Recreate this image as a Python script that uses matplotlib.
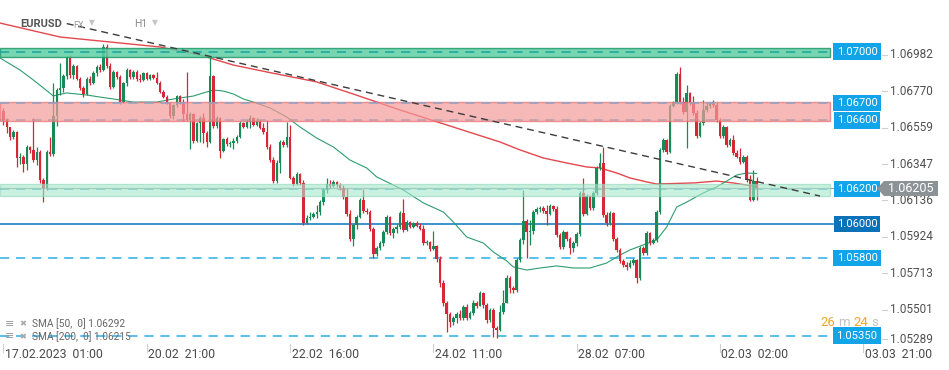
import numpy as np
import matplotlib
matplotlib.use("Agg")
import matplotlib.pyplot as plt
from matplotlib import transforms
from matplotlib.patches import Polygon

plt.rcParams['font.family'] = ['Roboto', 'DejaVu Sans']

# ---------------- data (EURUSD, H1) ----------------
first_open = 1.06655
closes = [
    1.06603, 1.06562, 1.06504, 1.06533, 1.06382, 1.06388, 1.06347, 1.06446, 1.06429, 1.06370,
    1.06417, 1.06254, 1.06208, 1.06417, 1.06405, 1.06626, 1.06777, 1.06789, 1.06858, 1.06963,
    1.06864, 1.06917, 1.06841, 1.06789, 1.06754, 1.06841, 1.06818, 1.06876, 1.06911, 1.06893,
    1.07027, 1.06917, 1.06795, 1.06882, 1.06853, 1.06707, 1.06818, 1.06893, 1.06853, 1.06882,
    1.06841, 1.06835, 1.06876, 1.06841, 1.06864, 1.06847, 1.06818, 1.06765, 1.06736, 1.06702,
    1.06626, 1.06690, 1.06742, 1.06707, 1.06638, 1.06603, 1.06638, 1.06481, 1.06585, 1.06614,
    1.06527, 1.06475, 1.06858, 1.06568, 1.06614, 1.06423, 1.06492, 1.06463, 1.06469, 1.06481,
    1.06504, 1.06585, 1.06562, 1.06591, 1.06614, 1.06574, 1.06597, 1.06556, 1.06533, 1.06446,
    1.06370, 1.06248, 1.06353, 1.06475, 1.06458, 1.06504, 1.06266, 1.06231, 1.06289, 1.06237,
    1.06004, 1.06033, 1.06039, 1.06057, 1.06068, 1.06126, 1.06196, 1.06231, 1.06219, 1.06243,
    1.06225, 1.06208, 1.06155, 1.06057, 1.05911, 1.05993, 1.06039, 1.06138, 1.06074, 1.06068,
    1.05970, 1.05824, 1.05859, 1.05888, 1.05952, 1.06039, 1.05946, 1.05970, 1.05981, 1.06062,
    1.05964, 1.06010, 1.05981, 1.06004, 1.05987, 1.05970, 1.05888, 1.05894, 1.05853, 1.05871,
    1.05795, 1.05656, 1.05540, 1.05476, 1.05429, 1.05452, 1.05476, 1.05452, 1.05516, 1.05452,
    1.05481, 1.05540, 1.05522, 1.05598, 1.05528, 1.05441, 1.05499, 1.05394, 1.05383, 1.05487,
    1.05540, 1.05685, 1.05627, 1.05615, 1.05789, 1.05906, 1.06016, 1.05952, 1.05958, 1.06068,
    1.06086, 1.06092, 1.06074, 1.06057, 1.06103, 1.06086, 1.05935, 1.05865, 1.05952, 1.05911,
    1.05859, 1.05888, 1.05940, 1.06179, 1.06057, 1.06161, 1.06092, 1.06179, 1.06324, 1.06353,
    1.06051, 1.06004, 1.06062, 1.05911, 1.05848, 1.05784, 1.05760, 1.05749, 1.05772, 1.05789,
    1.05685, 1.05859, 1.05830, 1.05946, 1.05888, 1.05906, 1.06068, 1.06429, 1.06487, 1.06417,
    1.06684, 1.06702, 1.06870, 1.06707, 1.06649, 1.06760, 1.06702, 1.06643, 1.06510, 1.06585,
    1.06661, 1.06684, 1.06696, 1.06690, 1.06603, 1.06510, 1.06562, 1.06458, 1.06487, 1.06411,
    1.06388, 1.06359, 1.06388, 1.06254, 1.06138, 1.06248, 1.06205,
]
highs = [
    1.06673, 1.06615, 1.06557, 1.06545, 1.06539, 1.06412, 1.06400, 1.06458, 1.06452, 1.06615,
    1.06446, 1.06429, 1.06266, 1.06429, 1.06504, 1.06818, 1.06789, 1.06934, 1.06870, 1.06974,
    1.06980, 1.06928, 1.06922, 1.06852, 1.06800, 1.06852, 1.06858, 1.06887, 1.06922, 1.06928,
    1.07045, 1.07045, 1.06934, 1.06893, 1.06887, 1.06864, 1.06824, 1.06905, 1.06899, 1.06893,
    1.06893, 1.06870, 1.06882, 1.06882, 1.06870, 1.06870, 1.06882, 1.06829, 1.06777, 1.06748,
    1.06707, 1.06696, 1.06748, 1.06748, 1.06725, 1.06882, 1.06649, 1.06643, 1.06591, 1.06626,
    1.06643, 1.06539, 1.06969, 1.06864, 1.06626, 1.06620, 1.06498, 1.06504, 1.06481, 1.06498,
    1.06516, 1.06597, 1.06591, 1.06603, 1.06632, 1.06620, 1.06615, 1.06603, 1.06585, 1.06603,
    1.06463, 1.06388, 1.06370, 1.06487, 1.06487, 1.06591, 1.06574, 1.06277, 1.06301, 1.06295,
    1.06254, 1.06051, 1.06068, 1.06068, 1.06109, 1.06138, 1.06208, 1.06266, 1.06254, 1.06254,
    1.06248, 1.06237, 1.06225, 1.06208, 1.06080, 1.05999, 1.06051, 1.06150, 1.06202, 1.06092,
    1.06080, 1.05981, 1.05871, 1.05900, 1.05964, 1.06051, 1.06045, 1.05981, 1.05999, 1.06074,
    1.06144, 1.06022, 1.06016, 1.06010, 1.06016, 1.06004, 1.05993, 1.05906, 1.05900, 1.05958,
    1.05877, 1.05813, 1.05673, 1.05551, 1.05487, 1.05464, 1.05487, 1.05499, 1.05528, 1.05534,
    1.05493, 1.05557, 1.05551, 1.05609, 1.05603, 1.05540, 1.05511, 1.05511, 1.05406, 1.05528,
    1.05615, 1.05702, 1.05696, 1.05638, 1.05801, 1.05917, 1.06196, 1.06028, 1.06022, 1.06080,
    1.06097, 1.06103, 1.06103, 1.06109, 1.06115, 1.06109, 1.06103, 1.05946, 1.05964, 1.05958,
    1.05923, 1.05900, 1.05952, 1.06190, 1.06266, 1.06173, 1.06167, 1.06190, 1.06335, 1.06411,
    1.06446, 1.06068, 1.06074, 1.06068, 1.05923, 1.05859, 1.05795, 1.05778, 1.05789, 1.05801,
    1.05795, 1.05871, 1.05871, 1.05958, 1.05952, 1.05917, 1.06080, 1.06440, 1.06498, 1.06492,
    1.06696, 1.06713, 1.06882, 1.06911, 1.06736, 1.06806, 1.06765, 1.06742, 1.06661, 1.06597,
    1.06719, 1.06702, 1.06707, 1.06719, 1.06707, 1.06615, 1.06574, 1.06568, 1.06498, 1.06516,
    1.06429, 1.06440, 1.06400, 1.06400, 1.06283, 1.06312, 1.06272,
]
lows = [
    1.06574, 1.06527, 1.06487, 1.06492, 1.06330, 1.06347, 1.06301, 1.06312, 1.06411, 1.06359,
    1.06341, 1.06237, 1.06126, 1.06196, 1.06394, 1.06394, 1.06568, 1.06748, 1.06765, 1.06841,
    1.06847, 1.06841, 1.06835, 1.06777, 1.06736, 1.06748, 1.06806, 1.06812, 1.06858, 1.06882,
    1.06887, 1.06905, 1.06783, 1.06789, 1.06841, 1.06696, 1.06702, 1.06800, 1.06841, 1.06841,
    1.06829, 1.06824, 1.06829, 1.06835, 1.06835, 1.06841, 1.06812, 1.06760, 1.06731, 1.06696,
    1.06615, 1.06609, 1.06678, 1.06696, 1.06597, 1.06597, 1.06434, 1.06469, 1.06475, 1.06475,
    1.06469, 1.06446, 1.06469, 1.06556, 1.06556, 1.06382, 1.06417, 1.06452, 1.06446, 1.06434,
    1.06469, 1.06498, 1.06556, 1.06556, 1.06556, 1.06568, 1.06568, 1.06550, 1.06521, 1.06434,
    1.06359, 1.06237, 1.06237, 1.06295, 1.06446, 1.06446, 1.06260, 1.06219, 1.06225, 1.06225,
    1.05993, 1.05999, 1.06022, 1.06034, 1.06034, 1.06051, 1.06109, 1.06179, 1.06208, 1.06214,
    1.06214, 1.06196, 1.06144, 1.06045, 1.05900, 1.05871, 1.05970, 1.06034, 1.06062, 1.06057,
    1.05958, 1.05801, 1.05813, 1.05848, 1.05871, 1.05940, 1.05935, 1.05917, 1.05946, 1.05970,
    1.05952, 1.05958, 1.05975, 1.05975, 1.05981, 1.05964, 1.05877, 1.05877, 1.05842, 1.05848,
    1.05778, 1.05633, 1.05522, 1.05371, 1.05400, 1.05412, 1.05423, 1.05441, 1.05441, 1.05441,
    1.05447, 1.05470, 1.05511, 1.05522, 1.05511, 1.05423, 1.05429, 1.05342, 1.05336, 1.05377,
    1.05476, 1.05557, 1.05598, 1.05598, 1.05603, 1.05778, 1.05882, 1.05801, 1.05877, 1.05940,
    1.06057, 1.06068, 1.06062, 1.05993, 1.06051, 1.06074, 1.05923, 1.05853, 1.05853, 1.05900,
    1.05824, 1.05836, 1.05871, 1.05929, 1.06045, 1.06051, 1.06080, 1.06080, 1.06167, 1.06312,
    1.06039, 1.05987, 1.05993, 1.05900, 1.05836, 1.05772, 1.05749, 1.05731, 1.05743, 1.05760,
    1.05656, 1.05673, 1.05818, 1.05818, 1.05877, 1.05882, 1.05894, 1.06057, 1.06417, 1.06405,
    1.06411, 1.06678, 1.06696, 1.06696, 1.06638, 1.06440, 1.06690, 1.06632, 1.06498, 1.06504,
    1.06574, 1.06649, 1.06673, 1.06678, 1.06591, 1.06498, 1.06498, 1.06446, 1.06452, 1.06400,
    1.06382, 1.06347, 1.06353, 1.06243, 1.06132, 1.06132, 1.06138,
]

# moving averages at candle positions
sma50_idx = [-1, 5, 9, 12, 15, 16, 19, 22, 25, 29, 33, 39, 46, 51, 57, 60, 63, 66, 69, 72,
             75, 80, 85, 89, 94, 99, 104, 109, 112, 120, 126, 132, 135, 139, 144, 147, 151, 153,
             157, 161, 166, 171, 176, 181, 185, 188, 192, 196, 199, 202, 205, 210, 214, 217,
             220, 223, 226]
sma50_val = [1.06963, 1.06893, 1.06835, 1.06789, 1.06742, 1.06748, 1.06760, 1.06754, 1.06748,
             1.06736, 1.06725, 1.06707, 1.06707, 1.06725, 1.06742, 1.06760, 1.06777, 1.06771,
             1.06754, 1.06725, 1.06707, 1.06673, 1.06620, 1.06562, 1.06498, 1.06446, 1.06370,
             1.06324, 1.06272, 1.06196, 1.06121, 1.06068, 1.06010, 1.05923, 1.05888, 1.05836,
             1.05784, 1.05749, 1.05731, 1.05743, 1.05755, 1.05743, 1.05743, 1.05772, 1.05818,
             1.05848, 1.05877, 1.05906, 1.05981, 1.06097, 1.06126, 1.06179, 1.06214, 1.06248,
             1.06283, 1.06295, 1.06292]
sma200_idx = [-1, 17, 32, 47, 59, 69, 79, 94, 104, 119, 134, 149, 155, 162, 169, 175, 179,
              184, 188, 193, 196, 207, 214, 219, 226]
sma200_val = [1.07166, 1.07085, 1.07056, 1.07027, 1.06980, 1.06922, 1.06882, 1.06824, 1.06760,
              1.06661, 1.06568, 1.06475, 1.06429, 1.06382, 1.06353, 1.06330, 1.06324, 1.06295,
              1.06266, 1.06243, 1.06231, 1.06237, 1.06248, 1.06237, 1.06215]

trend_idx = [19, 245]
trend_val = [1.07163, 1.06161]

# zones (low, high)
zone_top = (1.06967, 1.07023)
zone_red = (1.06599, 1.06706)
zone_low = (1.06163, 1.06229)

level_values = [1.07000, 1.06700, 1.06600, 1.06200, 1.06000, 1.05800, 1.05350]
price_ticks = [1.06982, 1.06770, 1.06559, 1.06347, 1.06136, 1.05924, 1.05713, 1.05501, 1.05289]
date_idx = [0, 43, 86, 129, 172, 215, 258]
date_labels = ['17.02.2023  01:00', '20.02  21:00', '22.02  16:00', '24.02  11:00',
               '28.02  07:00', '02.03  02:00', '03.03  21:00']
last_price = 1.06205
sma50_last = 1.06292
sma200_last = 1.06215

# ---------------- layout ----------------
W, H = 949, 370
X0, STEP = 3.4, 3.333          # pixel of first candle, pixels per candle
P_TOP, P_PX = 1.07300, 0.0000581

GREEN = '#178a57'
RED = '#d92636'
LBLUE = '#12a4e8'
DBLUE = '#0b72b9'

fig = plt.figure(figsize=(W / 100, H / 100), dpi=100)
ax = fig.add_axes([0, 0, 1, 1])
ax.set_xlim(-X0 / STEP, (W - X0) / STEP)
ax.set_ylim(P_TOP - H * P_PX, P_TOP)
ax.axis('off')

xa_yd = transforms.blended_transform_factory(ax.transAxes, ax.transData)
xd_ya = transforms.blended_transform_factory(ax.transData, ax.transAxes)
right_end = 830 / W

# level lines
for v in [1.05800, 1.05350, 1.06200, 1.06600]:
    ax.axhline(v, 0, right_end, color='#2aaeea', lw=1.1, dashes=(6, 4.5), zorder=1)
ax.axhline(1.06000, 0, 833 / W, color='#1a7fc6', lw=1.2, zorder=1)
ax.axhline(last_price, 0, 880 / W, color='#9aa0a4', lw=0.9, zorder=1)

# moving averages
ax.plot(sma200_idx, sma200_val, color='#e2484d', lw=1.0, zorder=2)
ax.plot(sma50_idx, sma50_val, color='#2e9d6e', lw=0.8, zorder=2)

# candles
closes = np.array(closes)
opens = np.concatenate([[first_open], closes[:-1]])
highs = np.maximum(np.array(highs), np.maximum(opens, closes))
lows = np.minimum(np.array(lows), np.minimum(opens, closes))
idx = np.arange(len(closes))
colors = np.where(closes >= opens, GREEN, RED)
ax.vlines(idx, lows, highs, colors=colors, lw=0.9, zorder=3)
ax.bar(idx, np.maximum(np.abs(closes - opens), 0.00003), bottom=np.minimum(opens, closes),
       width=0.72, color=colors, linewidth=0, zorder=3)

# zones drawn over the candles
ax.axhspan(*zone_top, 0, right_end, fc='#5fcfa5', alpha=0.85, ec='#1f9a6a', lw=1.0, zorder=4)
ax.axhspan(*zone_red, 0, right_end, fc='#f59a9a', alpha=0.7, ec='#ef6b6b', lw=1.0, zorder=4)
ax.axhspan(*zone_low, 0, right_end, fc='#a6e8cc', alpha=0.6, ec='#8fd8b8', lw=1.0, zorder=4)
ax.axhline(1.07000, 0, right_end, color='#1aa59c', lw=1.1, dashes=(6, 4.5), zorder=5)
ax.axhline(1.06700, 0, right_end, color='#8ea2c4', lw=1.1, dashes=(6, 4.5), zorder=5)

# trend line
ax.plot(trend_idx, trend_val, color='#3c3c3c', lw=1.0, dashes=(5, 3.5), zorder=5)

# level labels
for v in level_values:
    fc = DBLUE if v == 1.06000 else LBLUE
    ax.text(857 / W, v, f'{v:.5f}', transform=xa_yd, ha='center', va='center',
            color='white', fontsize=8.1, zorder=7,
            bbox=dict(boxstyle='square,pad=0.28', fc=fc, ec='none'))

# price axis
for v in price_ticks:
    y = max(v, 1.05330)
    ax.plot([882 / W, 887 / W], [y, y], transform=xa_yd, color='#cfcfcf', lw=0.8, zorder=6)
    ax.text(890 / W, y, f'{v:.5f}', transform=xa_yd, ha='left', va='center',
            color='#505050', fontsize=8.5, zorder=6)

# last price tag
hh = 7.5 * P_PX
tag = Polygon([(877 / W, last_price), (884 / W, last_price + hh), (938 / W, last_price + hh),
               (938 / W, last_price - hh), (884 / W, last_price - hh)],
              closed=True, transform=xa_yd, fc='#8c9397', ec='none', zorder=8)
ax.add_patch(tag)
ax.text(888 / W, last_price, f'{last_price:.5f}', transform=xa_yd, ha='left', va='center',
        color='white', fontsize=9, zorder=9)

# time axis
for i, lab in zip(date_idx, date_labels):
    ax.plot([i, i], [1 - 344 / H, 1 - 352 / H], transform=xd_ya, color='#d0d0d0', lw=0.8)
    ax.text(i + 0.45, 1 - 354 / H, lab, transform=xd_ya, ha='left', va='center',
            color='#4a4a4a', fontsize=8.8)

# header
ax.text(20 / W, 1 - 24 / H, 'EURUSD', transform=ax.transAxes, ha='left', va='center',
        color='#555555', fontsize=8, fontweight='bold', zorder=9)
ax.text(73 / W, 1 - 25 / H, 'FX', transform=ax.transAxes, ha='left', va='center',
        color='#9a9a9a', fontsize=6.5, zorder=9)
ax.text(89 / W, 1 - 23 / H, '\u25bc', transform=ax.transAxes, ha='left', va='center',
        color='#c4c4c4', fontsize=5.5, family='DejaVu Sans', zorder=9)
ax.text(134 / W, 1 - 24 / H, 'H1', transform=ax.transAxes, ha='left', va='center',
        color='#8a8a8a', fontsize=7.5, zorder=9)
ax.text(152 / W, 1 - 23 / H, '\u25bc', transform=ax.transAxes, ha='left', va='center',
        color='#c4c4c4', fontsize=5.5, family='DejaVu Sans', zorder=9)

# indicator legend
for row, (per, val) in enumerate([(50, sma50_last), (200, sma200_last)]):
    yy = 1 - (324 + 12.5 * row) / H
    ax.text(5 / W, yy, '\u2261', transform=ax.transAxes, ha='left', va='center',
            color='#9a9a9a', fontsize=8, family='DejaVu Sans', zorder=9)
    ax.text(19 / W, yy, '\u2716', transform=ax.transAxes, ha='left', va='center',
            color='#a8a8a8', fontsize=6, family='DejaVu Sans', zorder=9)
    ax.text(32 / W, yy, f'SMA [{per},  0] {val:.5f}', transform=ax.transAxes, ha='left',
            va='center', color='#666666', fontsize=7.3, zorder=9)

# candle countdown
for txt, px, col in [('26', 820, '#f5a623'), ('m', 838, '#c2c2c2'),
                     ('24', 853, '#f5a623'), ('s', 871, '#c2c2c2')]:
    ax.text(px / W, 1 - 326 / H, txt, transform=ax.transAxes, ha='left', va='baseline',
            color=col, fontsize=9.5, zorder=9)

fig.savefig('out.png', dpi=100, facecolor='white')
